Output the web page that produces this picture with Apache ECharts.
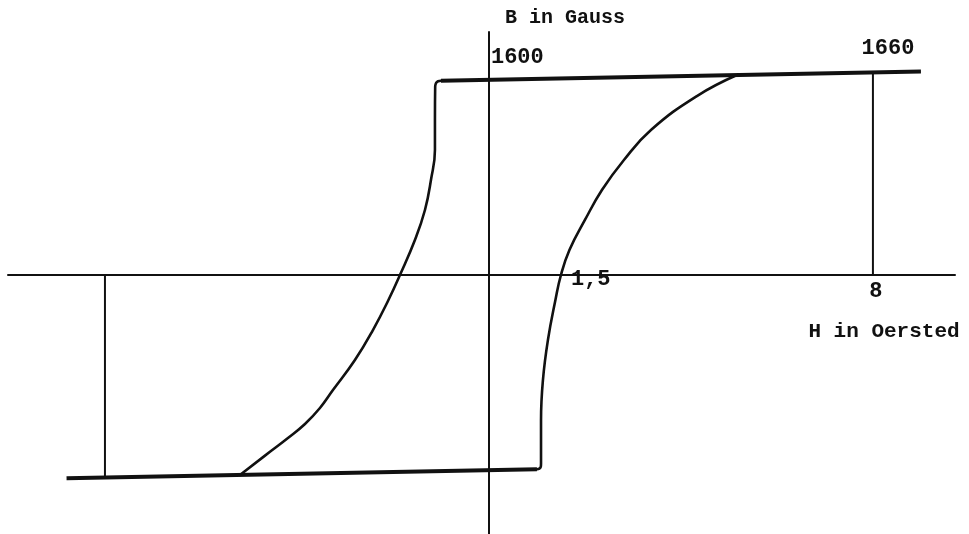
<!DOCTYPE html>
<html>
<head>
<meta charset="utf-8">
<title>Hysteresis loop</title>
<script src="https://cdn.jsdelivr.net/npm/echarts@6/dist/echarts.min.js"></script>
<style>
  html, body { margin: 0; padding: 0; background: #fff; }
  #chart { width: 969px; height: 534px; }
</style>
</head>
<body>
<div id="chart"></div>
<script>
// Field strength H (Oersted) and flux density B (Gauss)

// Upper saturation line (B rises slowly with H)
const upperLineH = [-1.0, 9.0];
const upperLineB = [1592.5, 1667.5];

// Lower saturation line
const lowerLineH = [-8.8, 1.0];
const lowerLineB = [-1666, -1592.5];

// Descending branch (from upper-left corner down to the lower line)
const descH = [-1.0, -1.06, -1.10, -1.12, -1.125, -1.125, -1.208, -1.333, -1.542, -1.854, -2.094, -2.417, -2.792, -3.25, -3.521, -3.833, -4.1875, -4.542, -5.1875];
const descB = [1592.5, 1588, 1574, 1545, 1270, 1025, 779, 533, 287, 0, -205, -451, -697, -943, -1090, -1221, -1336, -1443, -1639];

// Ascending branch (from lower-right corner up to the upper line)
const ascH = [1.0, 1.05, 1.08, 1.085, 1.085, 1.125, 1.229, 1.385, 1.5, 1.677, 2.0, 2.354, 2.8125, 3.375, 4.333, 5.167];
const ascB = [-1592.5, -1587, -1572, -1545, -1189, -861, -533, -205, 0, 205, 451, 697, 943, 1189, 1467, 1639];

// Marker verticals at H = ±8
const markH = [8, -8];
const markB = [1660, -1660];

// Axis annotations
const axisTitleB = 'B in Gauss';
const axisTitleH = 'H in Oersted';
const tickLabels = ['1600', '1660', '1,5', '8'];

const zip = (xs, ys) => xs.map((x, i) => [x, ys[i]]);

const chart = echarts.init(document.getElementById('chart'), null, { renderer: 'canvas' });

const ink = '#111';
const mono = '"Liberation Mono", "DejaVu Sans Mono", monospace';

const series = [
  {
    type: 'line', data: zip(upperLineH, upperLineB), symbol: 'none',
    lineStyle: { color: ink, width: 4 }, z: 3
  },
  {
    type: 'line', data: zip(lowerLineH, lowerLineB), symbol: 'none',
    lineStyle: { color: ink, width: 4 }, z: 3
  },
  {
    type: 'line', data: zip(descH, descB), symbol: 'none', smooth: 0.45,
    lineStyle: { color: ink, width: 2.6, cap: 'round', join: 'round' }, z: 2
  },
  {
    type: 'line', data: zip(ascH, ascB), symbol: 'none', smooth: 0.45,
    lineStyle: { color: ink, width: 2.6, cap: 'round', join: 'round' }, z: 2
  }
];
markH.forEach((h, i) => {
  series.push({
    type: 'line', data: [[h, 0], [h, markB[i]]], symbol: 'none',
    lineStyle: { color: ink, width: 2 }, z: 2
  });
});

chart.setOption({
  animation: false,
  backgroundColor: '#fff',
  grid: { left: 8, right: 14, top: 32, bottom: 0, containLabel: false },
  xAxis: {
    type: 'value', min: -10.02, max: 9.71,
    axisLine: { onZero: true, lineStyle: { color: ink, width: 2 } },
    axisTick: { show: false }, axisLabel: { show: false }, splitLine: { show: false }
  },
  yAxis: {
    type: 'value', min: -2123, max: 1992,
    axisLine: { show: true, onZero: true, lineStyle: { color: ink, width: 2 } },
    axisTick: { show: false }, axisLabel: { show: false }, splitLine: { show: false }
  },
  series: series
});

// Text annotations placed at the data positions they describe
function at(h, b) { return chart.convertToPixel({ gridIndex: 0 }, [h, b]); }
function txt(str, x, y, size, align, vAlign) {
  return {
    type: 'text', x: x, y: y, z: 10,
    style: {
      text: str, fill: ink, font: 'bold ' + size + 'px ' + mono,
      align: align || 'left', verticalAlign: vAlign || 'middle'
    }
  };
}
const o = at(0, 0);
const p1600 = at(0, 1600);
const p1660 = at(8, 1660);
const p15 = at(1.5, 0);
const p8 = at(8, 0);

chart.setOption({
  graphic: [
    txt(axisTitleB, o[0] + 16, 18, 20),
    txt(tickLabels[0], p1600[0] + 2, p1600[1] - 22, 22),
    txt(tickLabels[1], p1660[0] + 15, p1660[1] - 24, 22, 'center'),
    txt(tickLabels[2], p15[0] + 10, p15[1] + 4, 22),
    txt(tickLabels[3], p8[0] + 3, p8[1] + 16, 22, 'center'),
    txt(axisTitleH, 884, 332, 21, 'center')
  ]
});
</script>
</body>
</html>
